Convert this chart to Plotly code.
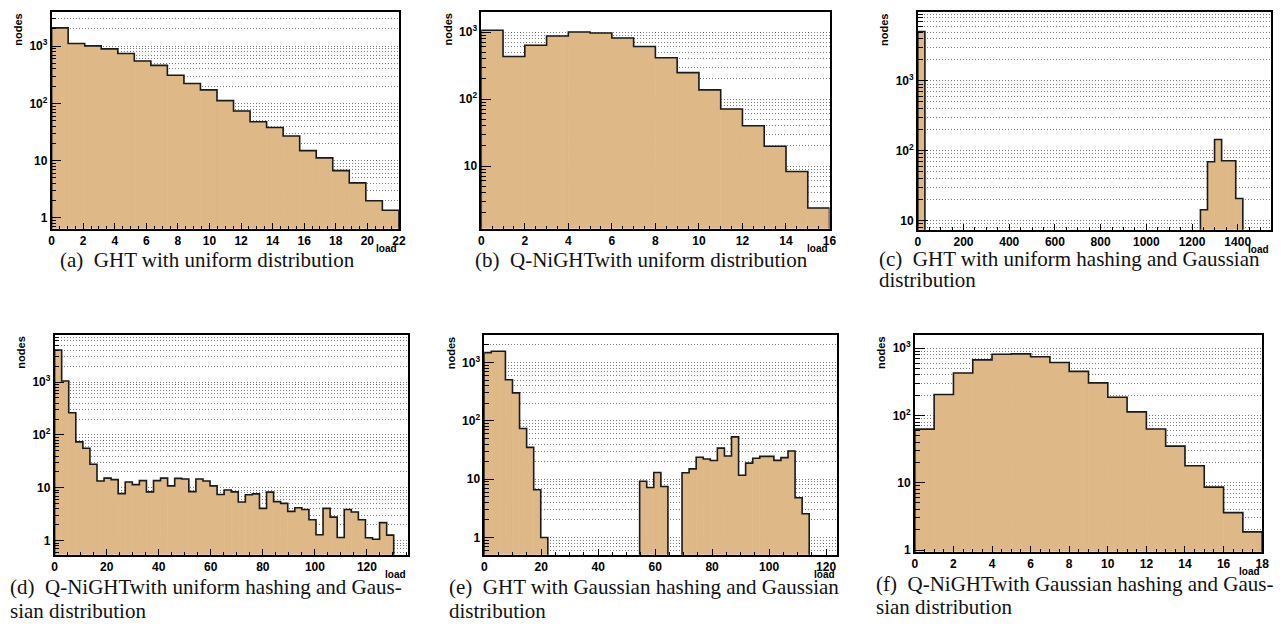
import plotly.graph_objects as go

W, H = 1287, 628

# ---------------- data (bin contents) ----------------
# (a) GHT with uniform distribution: 21 bins over load 0..22
a_xmax = 22
a_counts = [2090, 1114, 1015, 900, 748, 551, 463, 311, 223, 173, 112,
            74, 48, 38, 27, 15, 11.2, 6.7, 4.1, 2.0, 1.36]

# (b) Q-NiGHT with uniform distribution: 16 bins over 0..16
b_xmax = 16
b_counts = [1060, 432, 635, 873, 1000, 966, 815, 607, 413, 248, 137,
            71, 40, 19.8, 8.3, 2.37]

# (c) GHT, uniform hashing, Gaussian distribution: 50 bins over 0..1546
c_xmax = 1546
c_counts = [5120, 0, 0, 0, 0, 0, 0, 0, 0, 0,
            0, 0, 0, 0, 0, 0, 0, 0, 0, 0,
            0, 0, 0, 0, 0, 0, 0, 0, 0, 0,
            0, 0, 0, 0, 0, 0, 0, 0, 0, 0,
            14.3, 69.5, 145, 72, 72, 20.7, 0, 0, 0, 0]

# (d) Q-NiGHT, uniform hashing, Gaussian distribution: 50 bins over 0..135.7
d_xmax = 135.7
d_counts = [4030, 1045, 263, 74, 56, 28, 13.5, 15.3, 14.3, 7.8,
            12.9, 11.5, 13.7, 8.4, 13.7, 15.3, 10.9, 15.1, 14.7, 8.5,
            14.7, 13.5, 10.9, 7.5, 9.1, 8.4, 5.4, 7.4, 7.7, 4.1,
            8.3, 5.5, 5.1, 3.6, 4.2, 3.9, 2.5, 1.3, 4.1, 2.8,
            1.15, 3.9, 3.5, 2.5, 1.14, 1.07, 2.2, 1.28, 0, 0]

# (e) GHT, Gaussian hashing, Gaussian distribution: 50 bins over 0..124
e_xmax = 124
e_counts = [1477, 1556, 1556, 507, 301, 74, 35, 6.6, 1.0, 0,
            0, 0, 0, 0, 0, 0, 0, 0, 0, 0,
            0, 0, 9.2, 7.2, 13, 7.5, 0, 0, 12.9, 15,
            23.7, 22.2, 20.9, 34, 25, 53, 11.7, 18.8, 22.8, 24.6,
            24.6, 21, 23.4, 30.4, 4.8, 2.55, 0, 0, 0, 0]

# (f) Q-NiGHT, Gaussian hashing, Gaussian distribution: 18 bins over 0..18
f_xmax = 18
f_counts = [62.6, 205, 428, 672, 815, 824, 745, 614, 453, 305, 187,
            113, 63, 35, 17.9, 8.6, 3.6, 1.86]

y_major_vals = [1, 10, 100, 1000]
y_major_text = ["1", "10", "10<sup>2</sup>", "10<sup>3</sup>"]
y_minor_mults = [2, 3, 4, 5, 6, 7, 8, 9]
y_decades = [0.1, 1, 10, 100, 1000, 10000]

captions = {
    "a": ["(a)\u00a0 GHT with uniform distribution"],
    "b": ["(b)\u00a0 Q-NiGHTwith uniform distribution"],
    "c": ["(c)\u00a0 GHT with uniform hashing and Gaussian", "distribution"],
    "d": ["(d)\u00a0 Q-NiGHTwith uniform hashing and Gaus-", "sian distribution"],
    "e": ["(e)\u00a0 GHT with Gaussian hashing and Gaussian", "distribution"],
    "f": ["(f)\u00a0 Q-NiGHTwith Gaussian hashing and Gaus-", "sian distribution"],
}

# ---------------- layout of the panels (pixels) ----------------
panels = [
    dict(key="a", counts=a_counts, xmax=a_xmax, box=(49, 399, 12, 231), ylog=(-0.19, 3.60),
         dtick=2, mdtick=0.5, cap=("center", 206, [263])),
    dict(key="b", counts=b_counts, xmax=b_xmax, box=(482, 833, 12, 231), ylog=(0.065, 3.30),
         dtick=2, mdtick=0.5, cap=("center", 643, [263])),
    dict(key="c", counts=c_counts, xmax=c_xmax, box=(922, 1278, 12, 232), ylog=(0.868, 3.99),
         dtick=200, mdtick=50, cap=("left", 881, [261, 283])),
    dict(key="d", counts=d_counts, xmax=d_xmax, box=(52, 408, 338, 560), ylog=(-0.262, 3.893),
         dtick=20, mdtick=5, cap=("left", 5, [593, 617])),
    dict(key="e", counts=e_counts, xmax=e_xmax, box=(485, 841, 338, 560), ylog=(-0.294, 3.475),
         dtick=20, mdtick=5, cap=("left", 447, [593, 617])),
    dict(key="f", counts=f_counts, xmax=f_xmax, box=(919, 1269, 338, 557), ylog=(-0.025, 3.20),
         dtick=2, mdtick=0.5, cap=("left", 878, [590, 613])),
]

FILL = "#DEB887"
LINE = "#1a1a1a"
GRID = "#7a7a7a"
GRIDDASH = "1px,2px"
TICKFONT = dict(family="Liberation Sans, Arial, sans-serif", size=12, color="black", weight="bold")
LABFONT_N = dict(family="Liberation Sans, Arial, sans-serif", size=11, color="black", weight="bold")
LABFONT_L = dict(family="Liberation Sans, Arial, sans-serif", size=10, color="black", weight="bold")
CAPFONT = dict(family="Liberation Serif, Times New Roman, serif", size=21, color="#111111")
FLOOR = 1e-4  # empty bins: outline runs down to the frame bottom

y_minor_vals = [m * d for d in y_decades for m in y_minor_mults]

fig = go.Figure()
layout = dict(width=W, height=H, margin=dict(l=0, r=0, t=0, b=0),
              paper_bgcolor="white", plot_bgcolor="white", showlegend=False,
              barmode="overlay", annotations=[])

for i, p in enumerate(panels, 1):
    sx = "" if i == 1 else str(i)
    xa, ya = "x" + sx, "y" + sx
    counts = p["counts"]
    n = len(counts)
    w = p["xmax"] / n
    centers = [(k + 0.5) * w for k in range(n)]
    edges = [k * w for k in range(n + 1)]

    fig.add_trace(go.Bar(x=centers, y=counts, width=w, xaxis=xa, yaxis=ya,
                         marker=dict(color=FILL, line=dict(color=FILL, width=0.6)),
                         hoverinfo="skip"))
    # step outline (ROOT style)
    xs, ys = [edges[0]], [FLOOR]
    for k, v in enumerate(counts):
        vv = v if v > 0 else FLOOR
        xs += [edges[k], edges[k + 1]]
        ys += [vv, vv]
    xs.append(edges[-1]); ys.append(FLOOR)
    fig.add_trace(go.Scatter(x=xs, y=ys, mode="lines", xaxis=xa, yaxis=ya,
                             line=dict(color=LINE, width=1.6), hoverinfo="skip"))

    l, r, t, b = p["box"]
    layout["xaxis" + sx] = dict(
        domain=[l / W, r / W], anchor=ya, range=[0, p["xmax"]],
        showline=True, mirror=True, linecolor="black", linewidth=1.5,
        showgrid=False, zeroline=False, ticks="inside", ticklen=6, tickwidth=1,
        tickcolor="black", dtick=p["dtick"], tick0=0, tickfont=TICKFONT,
        minor=dict(dtick=p["mdtick"], tick0=0, ticks="inside", ticklen=3,
                   tickcolor="black", showgrid=False),
    )
    layout["yaxis" + sx] = dict(
        domain=[1 - b / H, 1 - t / H], anchor=xa, type="log", range=list(p["ylog"]),
        showline=True, mirror=True, linecolor="black", linewidth=1.5,
        tickmode="array", tickvals=y_major_vals, ticktext=y_major_text,
        ticks="inside", ticklen=10, tickwidth=1, tickcolor="black", tickfont=TICKFONT,
        showgrid=True, gridcolor=GRID, griddash=GRIDDASH, gridwidth=1, zeroline=False,
        minor=dict(tickmode="array", tickvals=y_minor_vals, ticks="inside", ticklen=5,
                   tickcolor="black", showgrid=True, gridcolor=GRID, griddash=GRIDDASH,
                   gridwidth=1),
    )

    # axis titles
    layout["annotations"].append(dict(
        text="nodes", xref="paper", yref="paper", x=(l - 34) / W, y=1 - t / H,
        xanchor="center", yanchor="top", textangle=-90, showarrow=False, font=LABFONT_N))
    layout["annotations"].append(dict(
        text="load", xref="paper", yref="paper", x=r / W, y=1 - (b + 20) / H,
        xanchor="right", yanchor="middle", showarrow=False, font=LABFONT_L))

    # sub-captions
    anchor, cx, ylines = p["cap"]
    for txt, cy in zip(captions[p["key"]], ylines):
        layout["annotations"].append(dict(
            text=txt, xref="paper", yref="paper", x=cx / W, y=1 - cy / H,
            xanchor=anchor, yanchor="middle", showarrow=False, font=CAPFONT))

fig.update_layout(**layout)
fig.write_html("out.html")
